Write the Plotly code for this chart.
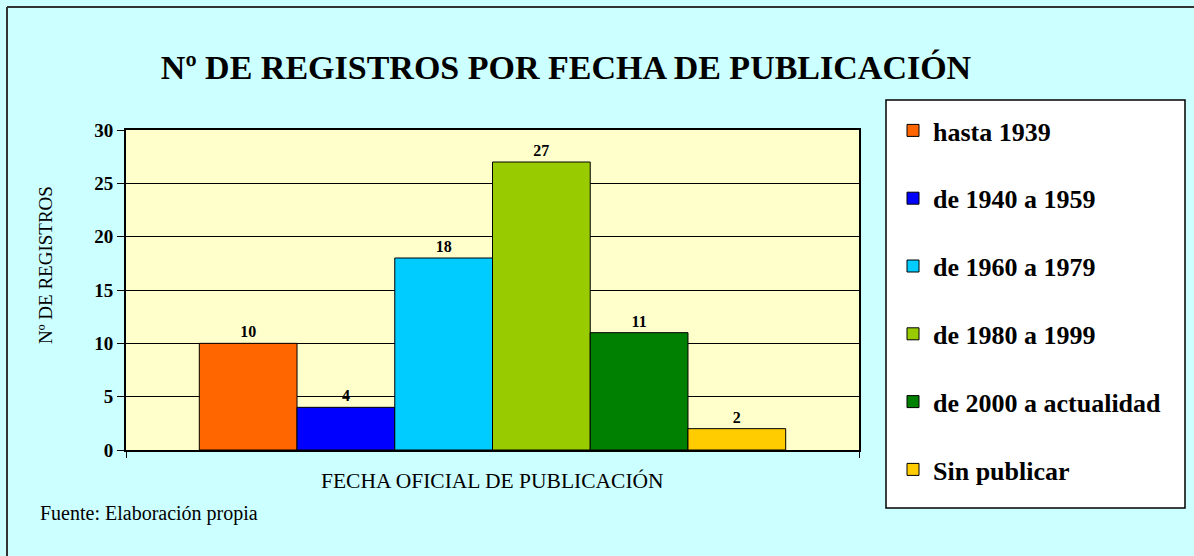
import plotly.graph_objects as go

# Number of records per official publication period
periodos = ["hasta 1939", "de 1940 a 1959", "de 1960 a 1979",
            "de 1980 a 1999", "de 2000 a actualidad", "Sin publicar"]
registros = [10, 4, 18, 27, 11, 2]
colores = ["#FF6600", "#0000FF", "#00CCFF", "#99CC00", "#008000", "#FFCC00"]
y_ticks = [0, 5, 10, 15, 20, 25, 30]

W, H = 1194, 556
L, R, T, B = 126, 859, 130, 450  # plot area in pixels


def px_x(x):
    return (x - L) / (R - L)


def px_y(y):
    return (B - y) / (B - T)


SERIF = "Liberation Serif, Times New Roman, serif"

fig = go.Figure()
for i, (name, val, col) in enumerate(zip(periodos, registros, colores)):
    fig.add_trace(go.Bar(
        x=[0], y=[val], name=name, legendgroup=f"g{i}",
        marker=dict(color=col, line=dict(color="#000000", width=1)),
        text=[val], texttemplate="%{text}", textposition="outside",
        textfont=dict(family=SERIF, size=16, color="#000000", weight="bold"),
        cliponaxis=False,
    ))

fig.update_layout(
    width=W, height=H,
    margin=dict(l=L, r=W - R, t=T, b=H - B),
    paper_bgcolor="#CCFFFF",
    plot_bgcolor="#FFFFCC",
    barmode="group", bargap=0.2, bargroupgap=0,
    font=dict(family=SERIF, color="#000000"),
    title=dict(
        text="<b>Nº DE REGISTROS POR FECHA DE PUBLICACIÓN</b>",
        x=566 / W, xanchor="center",
        y=1 - 67 / H, yanchor="middle",
        font=dict(family=SERIF, size=34, color="#000000"),
    ),
    showlegend=True,
    legend=dict(
        x=px_x(893), xanchor="left", y=px_y(107), yanchor="top",
        bgcolor="rgba(0,0,0,0)", borderwidth=0,
        font=dict(family=SERIF, size=26, color="#000000", weight="bold"),
        tracegroupgap=31, traceorder="grouped", maxheight=480,
    ),
    xaxis=dict(
        range=[-0.5, 0.5], tickvals=[-0.5, 0.5], showticklabels=False,
        ticks="outside", ticklen=6, tickcolor="#000000",
        showgrid=False, zeroline=False,
        showline=True, linecolor="#000000", linewidth=2, mirror=True,
    ),
    yaxis=dict(
        range=[0, 30], tickvals=y_ticks,
        ticks="outside", ticklen=7, tickcolor="#000000",
        tickfont=dict(family=SERIF, size=19, color="#000000", weight="bold"),
        showgrid=True, gridcolor="#000000", gridwidth=1,
        zeroline=False,
        showline=True, linecolor="#000000", linewidth=2, mirror=True,
    ),
    shapes=[
        # legend frame
        dict(type="rect", xref="paper", yref="paper", layer="below",
             x0=px_x(886), x1=px_x(1185), y0=px_y(508), y1=px_y(100),
             fillcolor="#FFFFFF", line=dict(color="#000000", width=1.5)),
        # outer chart frame (left and top edges)
        dict(type="line", xref="paper", yref="paper",
             x0=px_x(7), x1=px_x(7), y0=px_y(7), y1=px_y(556),
             line=dict(color="#333333", width=2)),
        dict(type="line", xref="paper", yref="paper",
             x0=px_x(7), x1=px_x(1194), y0=px_y(7), y1=px_y(7),
             line=dict(color="#333333", width=2)),
    ],
    annotations=[
        dict(text="Nº DE REGISTROS", xref="paper", yref="paper",
             x=px_x(45), y=px_y(265), xanchor="center", yanchor="middle",
             textangle=-90, showarrow=False,
             font=dict(family=SERIF, size=19, color="#000000")),
        dict(text="FECHA OFICIAL DE PUBLICACIÓN", xref="paper", yref="paper",
             x=px_x(492), y=px_y(481), xanchor="center", yanchor="middle",
             showarrow=False,
             font=dict(family=SERIF, size=21.5, color="#000000")),
        dict(text="Fuente: Elaboración propia", xref="paper", yref="paper",
             x=px_x(38), y=px_y(513), xanchor="left", yanchor="middle",
             showarrow=False,
             font=dict(family=SERIF, size=20, color="#000000")),
    ],
)

fig.write_html("out.html")
